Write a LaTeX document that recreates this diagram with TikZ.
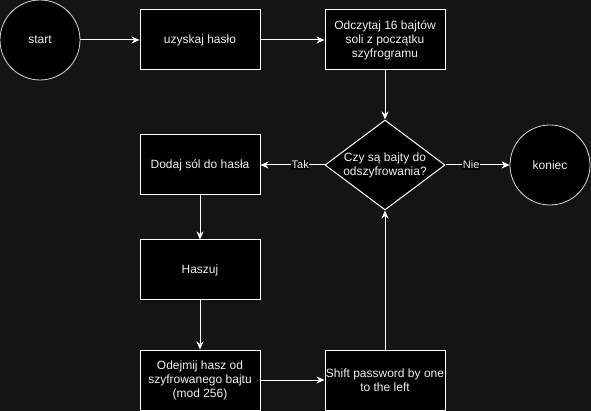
\documentclass[tikz,border=0pt]{standalone}
\usepackage{fontspec}
\setmainfont{Liberation Sans}
\usetikzlibrary{shapes.geometric,arrows.meta}
\definecolor{bgc}{HTML}{141414}
\definecolor{txt}{HTML}{F0F0F0}
\tikzset{
  box/.style={draw=white, line width=1pt, fill=black, minimum width=120pt, minimum height=60pt, align=center, text=txt, font=\fontsize{12}{14}\selectfont, inner sep=0pt},
  term/.style={circle, draw=white!85!black, line width=0.8pt, fill=black, minimum size=80pt, inner sep=0pt, text=txt, font=\fontsize{12}{14}\selectfont},
  dec/.style={diamond, draw=white, line width=1pt, fill=black, minimum width=120pt, minimum height=90pt, aspect=1.333, inner sep=0pt, align=center, text=txt, font=\fontsize{12}{14}\selectfont},
  conn/.style={draw=white, line width=1pt, -{Stealth[length=8pt,width=7pt,inset=2.5pt]}},
  elabel/.style={fill=black, text=txt, inner sep=0.6pt, font=\fontsize{11}{12}\selectfont}
}
\begin{document}
\begin{tikzpicture}[x=1pt,y=-1pt]
\fill[bgc] (0,0) rectangle (591,411);
\useasboundingbox (0,0) rectangle (591,411);
\node[term] (start) at (40,40) {start};
\node[box] (get) at (200,40) {uzyskaj hasło};
\node[box] (read) at (385,40) {Odczytaj 16 bajtów\\soli z początku\\szyfrogramu};
\node[dec] (q) at (385,165) {};
\node[text=txt, align=center, font=\fontsize{12}{14}\selectfont] (qt) at (385,165) {Czy są bajty do\\odszyfrowania?};
\node[term] (end) at (550,165) {koniec};
\node[box] (salt) at (200,165) {Dodaj sól do hasła};
\node[box] (hash) at (200,270) {Haszuj};
\node[box] (sub) at (200,380) {Odejmij hasz od\\szyfrowanego bajtu\\(mod 256)};
\node[box] (shift) at (385,380) {Shift password by one\\to the left};
\draw[conn] (start) -- (get);
\draw[conn] (get) -- (read);
\draw[conn] (read) -- (q.north);
\draw[conn] (q.west) -- (salt) node[elabel, pos=0.38] (tak) {Tak};
\draw[conn] (q.east) -- (end) node[elabel, pos=0.4] (nie) {Nie};
\draw[conn] (salt) -- (hash);
\draw[conn] (hash) -- (sub);
\draw[conn] (sub) -- (shift);
\draw[conn] (shift) -- (q.south);
\end{tikzpicture}
\end{document}
